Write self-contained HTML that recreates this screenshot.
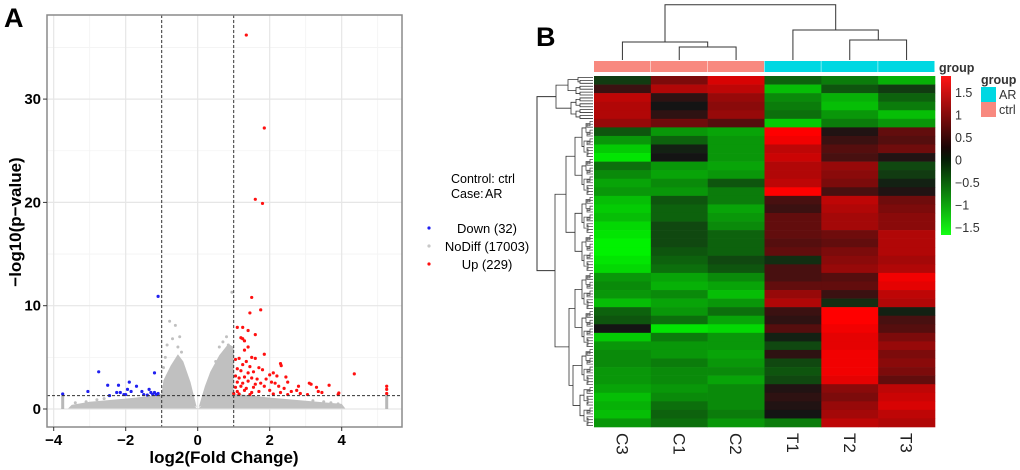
<!DOCTYPE html>
<html><head><meta charset="utf-8"><style>
body{margin:0;background:#fff}
svg{display:block;font-family:"Liberation Sans",Arial,sans-serif}
</style></head><body>
<svg id="fig" width="1020" height="470" viewBox="0 0 1020 470" xmlns="http://www.w3.org/2000/svg">
<g id="volcano"></g>
<g id="heat"></g>
</svg>
<script>
// ---------- Volcano data ----------
const upX=[1.35,1.85,1.6,1.8,1.5,1.45,1.75,1.1,1.25,1.4,1.6,1.25,1.3,1.2,1.4,1.3,1.85,1.05,1.15,1.35,1.5,1.6,1.25,1.45,1.7,2.3,2.32,1.1,1.2,1.4,1.55,1.8,2.1,2.0,2.2,1.05,1.15,1.3,1.5,1.65,1.9,2.45,1.1,1.25,1.4,1.6,1.75,2.05,2.15,2.5,3.1,3.15,1.05,1.2,1.35,1.55,1.85,2.25,2.4,2.8,3.3,3.65,4.35,1.1,1.3,1.5,1.7,2.0,2.3,2.6,2.75,3.05,3.45,3.9,3.92,5.25,5.25,5.25,1.0,1.15,1.45,2.1,2.5,2.85,3.35];
const upY=[36.2,27.2,20.3,19.9,10.8,9.3,9.6,7.9,7.9,7.6,7.2,6.8,6.6,6.9,6.0,5.7,5.3,4.8,4.9,4.6,5.0,4.9,4.3,4.1,4.0,4.4,4.2,3.9,3.7,3.5,3.6,3.8,3.5,3.3,3.2,3.2,3.0,3.1,3.0,2.9,2.9,3.1,2.6,2.5,2.7,2.4,2.5,2.6,2.5,2.6,2.5,2.4,2.1,2.2,2.0,2.1,2.2,2.2,2.0,2.2,2.1,2.3,3.4,1.7,1.8,1.6,1.7,1.8,1.6,1.7,1.8,1.4,1.6,1.4,1.55,2.2,1.9,1.5,1.5,1.45,1.4,1.45,1.4,1.5,1.7];
const downX=[-1.1,-2.75,-1.2,-1.9,-2.5,-2.2,-1.7,-1.95,-1.85,-3.05,-2.15,-2.25,-1.55,-1.35,-1.3,-1.1,-1.2,-2.05,-2.0,-1.5,-1.4,-1.25,-1.15,-2.45,-3.75];
const downY=[10.9,3.6,3.5,2.6,2.3,2.3,2.2,1.9,1.7,1.7,1.6,1.6,1.7,1.9,1.6,1.5,1.6,1.4,1.4,1.4,1.35,1.4,1.4,1.3,1.45];
const grayX=[-0.78,-0.62,-0.5,-0.85,-0.7,-0.55,-0.9,-0.45,0.95,0.8,0.7,0.85,0.6,0.9,0.75,-3.4,-3.1,-2.8,-2.6,3.2,3.5,3.7,3.9,-0.95,0.5];
const grayY=[8.5,8.1,7.0,6.2,6.8,6.0,5.0,5.5,11.3,7.0,6.5,6.2,6.0,5.8,5.6,0.6,0.7,0.9,1.0,0.8,0.7,0.6,0.5,4.0,4.6];
const xTicks=[-4,-2,0,2,4];
const yTicks=[0,10,20,30];

const NS="http://www.w3.org/2000/svg";
function mk(tag,attrs,parent,text){const e=document.createElementNS(NS,tag);for(const k in attrs)e.setAttribute(k,attrs[k]);if(text!==undefined)e.textContent=text;parent.appendChild(e);return e;}
const vx=v=>197.7+36*v, vy=v=>409-10.33*v;
const V=document.getElementById('volcano');
let pb=mk('rect',{x:47,y:15,width:355,height:412,fill:'#fff'},V);


for(let x=-3;x<=5;x+=2) mk('line',{x1:vx(x),x2:vx(x),y1:15,y2:427,stroke:'#f3f3f3','stroke-width':0.8},V);
for(let y=5;y<=35;y+=10) mk('line',{x1:47,x2:402,y1:vy(y),y2:vy(y),stroke:'#f3f3f3','stroke-width':0.8},V);
xTicks.forEach(t=>{mk('line',{x1:vx(t),x2:vx(t),y1:15,y2:427,stroke:'#e6e6e6','stroke-width':1.2},V);});
yTicks.forEach(t=>{mk('line',{x1:47,x2:402,y1:vy(t),y2:vy(t),stroke:'#e6e6e6','stroke-width':1.2},V);});
// gray cloud
const clouds=[
 [[-3.6,0.05],[-3.5,0.4],[-3,0.7],[-2,1.0],[-1.2,1.3],[-1,1.5],[-0.2,0.6],[0,0],[0.2,0.6],[1,1.5],[2,1.1],[3,0.8],[4,0.5],[4.1,0.05]],
 [[-1.0,1.5],[-0.95,2.8],[-0.75,4.2],[-0.55,5.3],[-0.4,4.6],[-0.2,2.6],[-0.03,0.2],[-0.5,0.6]],
 [[0.03,0.2],[0.2,2.2],[0.35,3.6],[0.6,5.2],[0.85,6.3],[1.0,6.0],[1.0,1.4],[0.5,0.8]]
];
clouds.forEach(c=>{
 const p=mk('polygon',{points:c.map(q=>vx(q[0])+','+vy(q[1])).join(' '),fill:'#c0c0c0'},V);
 
 
});
grayX.forEach((x,i)=>{const c=mk('circle',{cx:vx(x),cy:vy(grayY[i]),r:1.5,fill:'#c0c0c0'},V);
 
 });
mk('rect',{x:vx(-3.75)-1.5,y:vy(1.4),width:3,height:vy(0)-vy(1.4),fill:'#b8b8b8'},V);
mk('rect',{x:vx(5.25)-1.5,y:vy(1.4),width:3,height:vy(0)-vy(1.4),fill:'#b8b8b8'},V);
upX.forEach((x,i)=>{const c=mk('circle',{cx:vx(x),cy:vy(upY[i]),r:1.6,fill:'#ff1010'},V);
 
 });
downX.forEach((x,i)=>{const c=mk('circle',{cx:vx(x),cy:vy(downY[i]),r:1.6,fill:'#2020f0'},V);
 
 });
[-1,1].forEach(x=>mk('line',{x1:vx(x),x2:vx(x),y1:15,y2:427,stroke:'#333','stroke-width':1,'stroke-dasharray':'3,2'},V));
mk('line',{x1:47,x2:402,y1:vy(1.3),y2:vy(1.3),stroke:'#333','stroke-width':1,'stroke-dasharray':'3,2'},V);
mk('rect',{x:47,y:15,width:355,height:412,fill:'none',stroke:'#8a8a8a','stroke-width':1.5},V);
xTicks.forEach(t=>{mk('line',{x1:vx(t),x2:vx(t),y1:427,y2:431,stroke:'#333'},V);
 const l=mk('text',{x:vx(t),y:445,'text-anchor':'middle','font-size':15,'font-weight':'bold'},V,String(t).replace('-','\u2212'));
 
 });
yTicks.forEach(t=>{mk('line',{x1:43,x2:47,y1:vy(t),y2:vy(t),stroke:'#333'},V);
 const l=mk('text',{x:41,y:vy(t)+5,'text-anchor':'end','font-size':15,'font-weight':'bold'},V,String(t));
 
 });
let t=mk('text',{x:224,y:463,'text-anchor':'middle','font-size':17,'font-weight':'bold'},V,'log2(Fold Change)');


t=mk('text',{x:0,y:0,'text-anchor':'middle','font-size':17,'font-weight':'bold',transform:'translate(21,222) rotate(-90)'},V,'\u2212log10(p\u2212value)');


t=mk('text',{x:4,y:27,'font-size':27,'font-weight':'bold'},V,'A');


t=mk('text',{x:451,y:183,'font-size':12.5},V,'Control: ctrl');


const cg=mk('g',{},V);


mk('text',{x:451,y:198,'font-size':12.5},cg,'Case:');
mk('text',{x:485,y:198,'font-size':12.5},cg,'AR');
const legN=['Down (32)','NoDiff (17003)','Up (229)'],legC=['#2020f0','#c8c8c8','#ff1010'];
legN.forEach((n,i)=>{const y=228+18*i;
 const g=mk('g',{},V);
 
 
 mk('circle',{cx:429,cy:y,r:1.6,fill:legC[i]},g);
 mk('text',{x:487,y:y+5,'text-anchor':'middle','font-size':13},g,n);});

// ---------- Heatmap data ----------
const cols=['C3','C1','C2','T1','T2','T3'];
const groups=['ctrl','ctrl','ctrl','AR','AR','AR'];
const heatRows=[
[-0.3,0.8,1.5,-0.6,-0.8,-1.2],[0.3,1.2,1.3,-1.3,-0.5,-0.3],[1.3,0.2,1.0,-0.9,-1.2,-0.6],[1.2,0.0,0.9,-0.8,-1.3,-0.8],
[1.2,0.2,1.0,-0.7,-1.0,-1.3],[1.0,0.7,0.5,-1.4,-0.8,-1.0],[-0.5,-1.0,-1.1,1.8,0.1,0.6],[-1.0,-0.6,-1.0,1.7,0.3,0.5],
[-1.4,-0.1,-1.0,1.3,0.5,0.7],[-1.6,0.0,-1.0,1.4,0.4,0.1],[-0.7,-1.0,-1.1,1.2,1.0,-0.4],[-0.9,-1.1,-1.0,1.2,0.9,-0.3],
[-1.1,-0.9,-0.5,1.3,0.8,-0.1],[-1.0,-1.0,-0.8,1.8,0.4,0.1],[-1.3,-0.5,-0.8,0.4,1.3,0.7],[-1.4,-0.6,-1.1,0.3,1.2,0.8],
[-1.3,-0.6,-1.0,0.6,1.1,0.9],[-1.5,-0.4,-0.9,0.6,1.1,0.9],[-1.6,-0.4,-0.6,0.6,0.7,1.2],[-1.7,-0.4,-0.6,0.5,0.6,1.2],
[-1.7,-0.5,-0.6,0.6,0.8,1.2],[-1.6,-0.6,-0.4,-0.2,0.9,1.1],[-1.5,-0.7,-0.5,0.4,1.0,1.2],[-1.0,-1.1,-0.9,0.4,0.5,1.7],
[-0.9,-1.2,-1.1,0.6,0.6,1.6],[-1.0,-0.9,-1.3,1.0,0.3,1.3],[-1.3,-1.1,-1.0,1.2,-0.2,1.2],[-0.6,-1.0,-0.7,0.3,1.8,-0.1],
[-0.5,-0.7,-1.1,0.2,1.8,0.4],[0.0,-1.6,-1.5,0.5,1.7,0.5],[-1.4,-0.8,-1.0,-0.1,1.6,0.8],[-1.0,-1.0,-1.0,-0.4,1.6,1.0],
[-0.9,-1.0,-1.1,0.2,1.7,0.8],[-0.9,-0.8,-1.0,-0.4,1.7,0.9],[-1.0,-0.9,-0.9,-0.5,1.7,0.8],[-1.0,-0.9,-1.1,-0.4,1.6,0.6],
[-1.1,-1.0,-0.9,0.1,0.9,1.3],[-1.3,-0.9,-0.9,0.2,0.8,1.4],[-1.2,-0.7,-0.9,0.1,1.0,1.5],[-1.3,-0.6,-0.8,0.0,1.1,1.3],
[-1.0,-0.7,-1.0,-0.8,1.3,1.2]];
const scaleTicks=[1.5,1,0.5,0,-0.5,-1,-1.5];

const H=document.getElementById('heat');
const hx0=594,hx1=935,hy0=76,hy1=427;
const cw=(hx1-hx0)/cols.length, rh=(hy1-hy0)/heatRows.length;
function col(v){const a=Math.min(Math.abs(v)/1.8,1);const c=Math.round(20+235*a);
 return v>=0?`rgb(${c},${Math.round(20*(1-a))},${Math.round(20*(1-a))})`:`rgb(${Math.round(20*(1-a))},${c},${Math.round(20*(1-a))})`;}
heatRows.forEach((r,i)=>r.forEach((v,j)=>{
 const c=mk('rect',{x:hx0+j*cw,y:hy0+i*rh,width:cw+0.3,height:rh+0.3,fill:col(v)},H);
 
 }));
groups.forEach((g,j)=>{const c=mk('rect',{x:hx0+j*cw,y:61,width:cw-0.5,height:11,fill:g==='ctrl'?'#f8897f':'#00d8e2'},H);
 
 });
t=mk('text',{x:939,y:72,'font-size':12.5,'font-weight':'bold',fill:'#333'},H,'group');


cols.forEach((c,j)=>{const x=hx0+(j+0.5)*cw;
 const l=mk('text',{x:0,y:0,'font-size':17,fill:'#222','text-anchor':'start',transform:`translate(${x-6},433) rotate(90)`},H,c);
 
 });
const cx=j=>hx0+(j+0.5)*cw;
const dsty={stroke:'#333','stroke-width':1,fill:'none'};
const td=mk('g',{},H);


const P=(d)=>mk('path',Object.assign({d},dsty),td);
P(`M${cx(0)},60V42H707.7V47`);P(`M${cx(1)},60V47H${cx(2)}V60`);
P(`M${cx(3)},60V30H878.3V40`);P(`M${cx(4)},60V40H${cx(5)}V60`);
P(`M665,42V4.7H835.7V30`);
const ld=mk('g',{},H);


const NL=120;const ly=i=>hy0+(i+0.5)*(hy1-hy0)/NL;
function tree(a,b,depth,xs){
 if(b-a<=1){return [ly(a),593];}
 const m=Math.floor((a+b)/2);
 const x=xs[Math.min(depth,xs.length-1)]+((a*7+b*3)%5);
 const L=tree(a,m,depth+1,xs),R=tree(m,b,depth+1,xs);
 mk('path',Object.assign({d:`M${L[1]},${L[0]}H${x}V${R[0]}H${R[1]}`},dsty,{stroke:depth>4?'#555':'#333','stroke-width':0.8}),ld);
 return [(L[0]+R[0])/2,x];
}
const T1=tree(0,15,1,[537,556,567,574,579,583,586]);
const T2=tree(15,NL,1,[537,555,565,572,578,583,586]);
mk('path',Object.assign({d:`M${T1[1]},${T1[0]}H537V${T2[0]}H${T2[1]}`},dsty),ld);
const defs=mk('defs',{},H);
const gr=mk('linearGradient',{id:'cs',x1:0,y1:0,x2:0,y2:1},defs);
mk('stop',{offset:'0',  'stop-color':'#ff1414'},gr);
mk('stop',{offset:'0.45','stop-color':'#1a0505'},gr);
mk('stop',{offset:'0.52','stop-color':'#051a05'},gr);
mk('stop',{offset:'1',  'stop-color':'#14ff14'},gr);
const cb=mk('rect',{x:941,y:76,width:10,height:159,fill:'url(#cs)'},H);


scaleTicks.forEach(v=>{const l=mk('text',{x:955,y:160-45*v+4.5,'font-size':12.5,fill:'#333'},H,String(v).replace('-','\u2212'));
 
 });
t=mk('text',{x:981,y:84,'font-size':12.5,'font-weight':'bold',fill:'#333'},H,'group');


[['AR','#00d8e2',87],['ctrl','#f8897f',102]].forEach(d=>{
 const g=mk('g',{},H);
 
 
 mk('rect',{x:981,y:d[2],width:15,height:15,fill:d[1]},g);
 mk('text',{x:999,y:d[2]+12,'font-size':12.5,fill:'#333'},g,d[0]);});
t=mk('text',{x:536,y:46,'font-size':27,'font-weight':'bold'},H,'B');


</script>
</body></html>
